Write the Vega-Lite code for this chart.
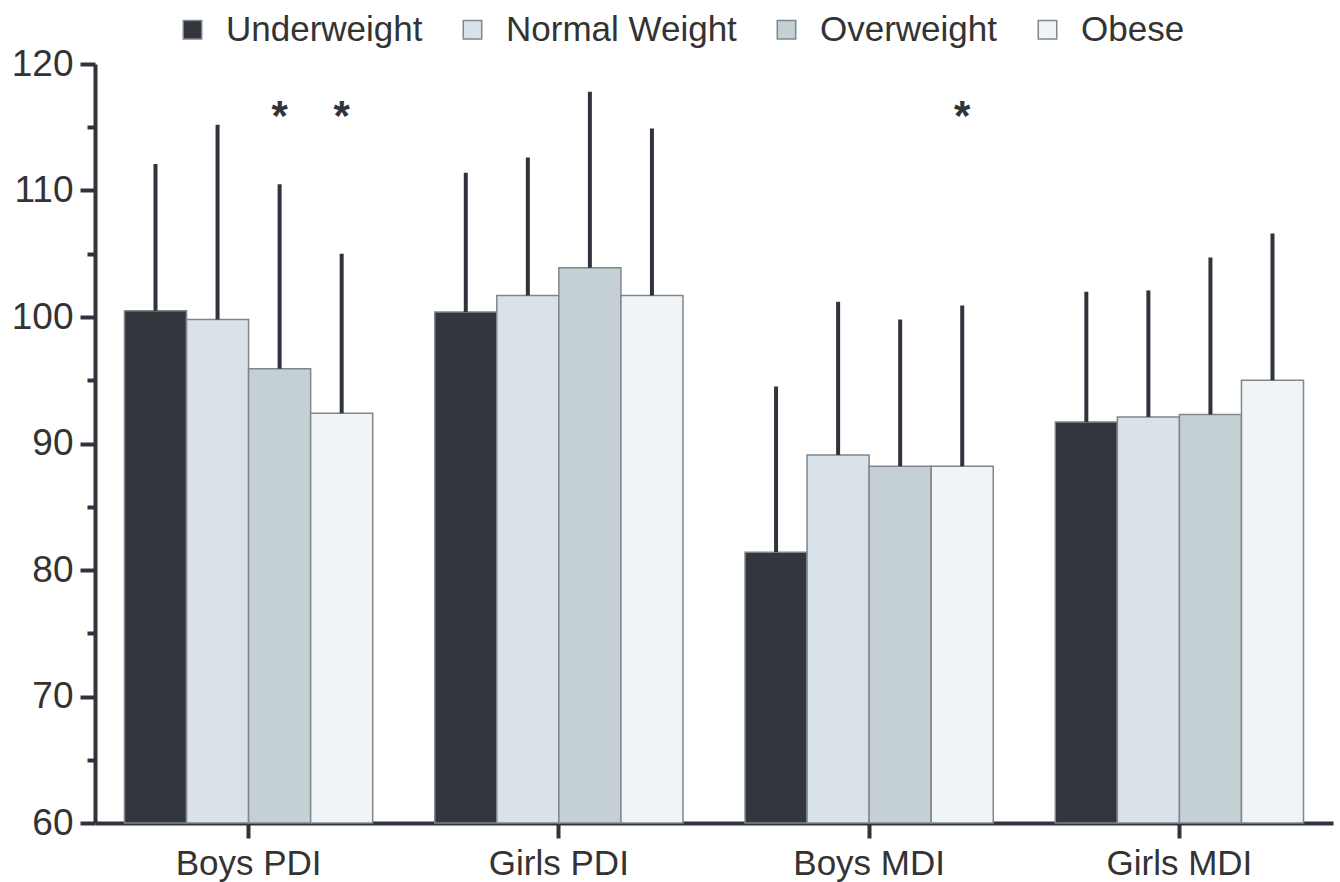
{
  "$schema": "https://vega.github.io/schema/vega-lite/v6.json",
  "autosize": "none",
  "width": 1238,
  "height": 759,
  "padding": {"left": 95, "top": 64, "right": 7, "bottom": 59},
  "background": "white",
  "config": {"view": {"stroke": null}, "font": "Liberation Sans"},
  "data": {"values": [
    {"group": "Boys PDI", "category": "Underweight", "mean": 100.5, "upper": 112.1, "sig": null},
    {"group": "Boys PDI", "category": "Normal Weight", "mean": 99.8, "upper": 115.2, "sig": null},
    {"group": "Boys PDI", "category": "Overweight", "mean": 95.9, "upper": 110.5, "sig": "*"},
    {"group": "Boys PDI", "category": "Obese", "mean": 92.4, "upper": 105.0, "sig": "*"},
    {"group": "Girls PDI", "category": "Underweight", "mean": 100.4, "upper": 111.4, "sig": null},
    {"group": "Girls PDI", "category": "Normal Weight", "mean": 101.7, "upper": 112.6, "sig": null},
    {"group": "Girls PDI", "category": "Overweight", "mean": 103.9, "upper": 117.8, "sig": null},
    {"group": "Girls PDI", "category": "Obese", "mean": 101.7, "upper": 114.9, "sig": null},
    {"group": "Boys MDI", "category": "Underweight", "mean": 81.4, "upper": 94.5, "sig": null},
    {"group": "Boys MDI", "category": "Normal Weight", "mean": 89.1, "upper": 101.2, "sig": null},
    {"group": "Boys MDI", "category": "Overweight", "mean": 88.2, "upper": 99.8, "sig": null},
    {"group": "Boys MDI", "category": "Obese", "mean": 88.2, "upper": 100.9, "sig": "*"},
    {"group": "Girls MDI", "category": "Underweight", "mean": 91.7, "upper": 102.0, "sig": null},
    {"group": "Girls MDI", "category": "Normal Weight", "mean": 92.1, "upper": 102.1, "sig": null},
    {"group": "Girls MDI", "category": "Overweight", "mean": 92.3, "upper": 104.7, "sig": null},
    {"group": "Girls MDI", "category": "Obese", "mean": 95.0, "upper": 106.6, "sig": null}
  ]},
  "encoding": {
    "x": {
      "field": "group", "type": "nominal",
      "sort": ["Boys PDI", "Girls PDI", "Boys MDI", "Girls MDI"],
      "scale": {"paddingInner": 0.2, "paddingOuter": 0.095},
      "axis": {
        "title": null, "labelAngle": 0, "labelFontSize": 35, "labelColor": "#333333",
        "labelPadding": 8, "tickSize": 15, "tickWidth": 4, "tickColor": "#2f333b",
        "domainColor": "#2f333b", "domainWidth": 4, "grid": false
      }
    },
    "xOffset": {
      "field": "category", "type": "nominal",
      "sort": ["Underweight", "Normal Weight", "Overweight", "Obese"],
      "scale": {"paddingInner": 0, "paddingOuter": 0}
    }
  },
  "layer": [
    {
      "mark": {"type": "bar", "stroke": "#7f878c", "strokeWidth": 1.5},
      "encoding": {
        "y": {
          "field": "mean", "type": "quantitative",
          "scale": {"domain": [60, 120], "zero": false, "nice": false},
          "axis": {
            "title": null, "values": [60, 70, 80, 90, 100, 110, 120],
            "labelFontSize": 37, "labelColor": "#333333", "labelPadding": 7,
            "tickSize": 15, "tickWidth": 4, "tickColor": "#2f333b",
            "domainColor": "#2f333b", "domainWidth": 4, "grid": false
          }
        },
        "y2": {"datum": 60},
        "color": {
          "field": "category", "type": "nominal",
          "sort": ["Underweight", "Normal Weight", "Overweight", "Obese"],
          "scale": {
            "domain": ["Underweight", "Normal Weight", "Overweight", "Obese"],
            "range": ["#33363d", "#d9e2e9", "#c5d0d5", "#f0f4f7"]
          },
          "legend": {
            "title": null, "orient": "none", "direction": "horizontal",
            "legendX": 80, "legendY": -52,
            "symbolType": "square", "symbolSize": 340, "symbolStrokeColor": "#7f878c",
            "symbolStrokeWidth": 1.5, "labelFontSize": 35, "labelColor": "#333333",
            "labelOffset": 16, "columnPadding": 32, "labelLimit": 400
          }
        }
      }
    },
    {
      "mark": {"type": "rule", "color": "#2f333b", "strokeWidth": 4},
      "encoding": {
        "y": {
          "field": "mean", "type": "quantitative",
          "axis": {
            "orient": "left", "title": null, "values": [65, 75, 85, 95, 105, 115],
            "labels": false, "domain": false, "tickSize": 8, "tickWidth": 4,
            "tickColor": "#2f333b", "grid": false
          }
        },
        "y2": {"field": "upper"}
      }
    },
    {
      "transform": [{"filter": "datum.sig != null"}],
      "mark": {"type": "text", "fontSize": 42, "fontWeight": "bold", "color": "#2f333b", "baseline": "alphabetic", "align": "center"},
      "encoding": {
        "y": {"datum": 114.8, "type": "quantitative", "axis": null},
        "text": {"field": "sig"}
      }
    }
  ],
  "resolve": {"axis": {"y": "independent"}}
}
